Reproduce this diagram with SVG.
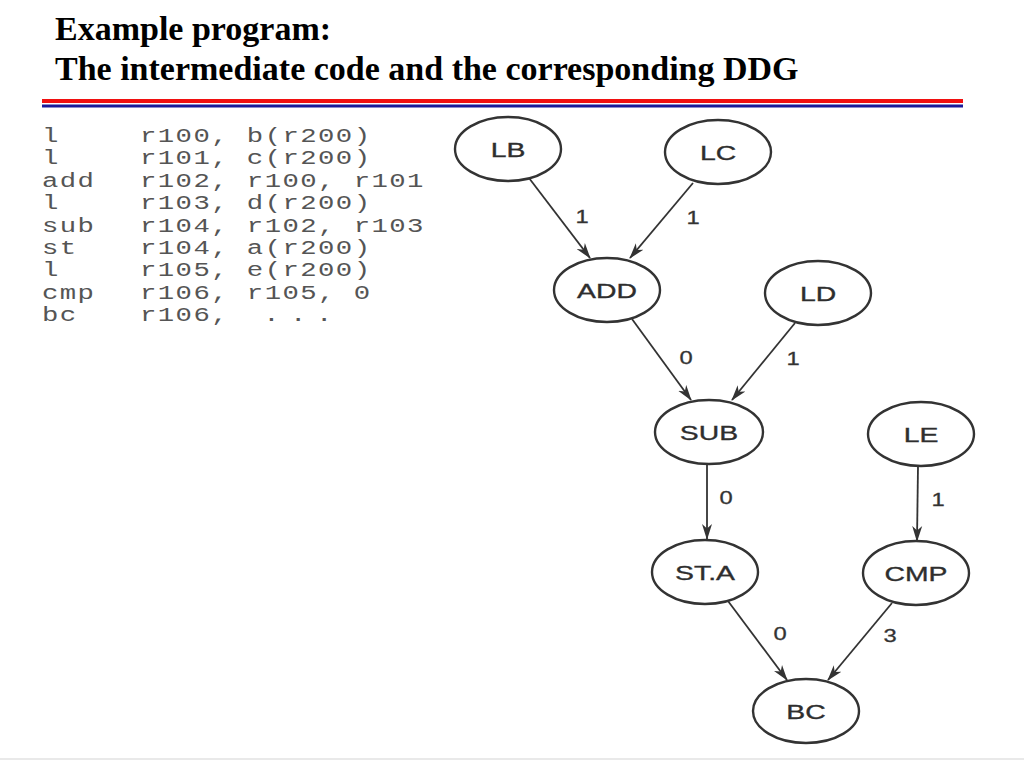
<svg xmlns="http://www.w3.org/2000/svg" width="1024" height="768" viewBox="0 0 1024 768">
  <style>
    .title { font-family: "Liberation Serif", "Times New Roman", serif; font-weight: bold; font-size: 34px; fill: #000; }
    .code { font-family: "Liberation Mono", "Courier New", monospace; font-size: 21px; letter-spacing: 1.1px; fill: #555; white-space: pre; }
    .node ellipse { fill: #fff; stroke: #333; stroke-width: 2.4; }
    .node text { font-family: "Liberation Sans", Arial, sans-serif; font-size: 21px; fill: #2e2e2e; stroke: #2e2e2e; stroke-width: 0.35; text-anchor: middle; }
    .edge { stroke: #333; stroke-width: 1.8; fill: none; marker-end: url(#arrow); }
    .elabel { font-family: "Liberation Sans", Arial, sans-serif; font-size: 19px; fill: #333; stroke: #333; stroke-width: 0.3; text-anchor: middle; }
  </style>
  <defs>
    <marker id="arrow" viewBox="0 0 16 11" refX="15" refY="5.5" markerWidth="16" markerHeight="11" markerUnits="userSpaceOnUse" orient="auto">
      <path d="M0,0.5 L16,5.5 L0,10.5 L4.5,5.5 Z" fill="#333"/>
    </marker>
  </defs>
  <rect width="1024" height="768" fill="#fff"/>

  <g id="title">
    <text class="title" x="55" y="40">Example program:</text>
    <text class="title" x="55" y="80">The intermediate code and the corresponding DDG</text>
    <rect x="42" y="99" width="921" height="4" fill="#f01010"/>
    <rect x="42" y="104.5" width="921" height="3" fill="#1a1a9a"/>
  </g>

  <g id="code" transform="scale(1.3,1)">
    <text class="code" x="32.3" y="142">l</text>
    <text class="code" x="107.7" y="142">r100, b(r200)</text>
    <text class="code" x="32.3" y="164.4">l</text>
    <text class="code" x="107.7" y="164.4">r101, c(r200)</text>
    <text class="code" x="32.3" y="186.8">add</text>
    <text class="code" x="107.7" y="186.8">r102, r100, r101</text>
    <text class="code" x="32.3" y="209.2">l</text>
    <text class="code" x="107.7" y="209.2">r103, d(r200)</text>
    <text class="code" x="32.3" y="231.6">sub</text>
    <text class="code" x="107.7" y="231.6">r104, r102, r103</text>
    <text class="code" x="32.3" y="254">st</text>
    <text class="code" x="107.7" y="254">r104, a(r200)</text>
    <text class="code" x="32.3" y="276.4">l</text>
    <text class="code" x="107.7" y="276.4">r105, e(r200)</text>
    <text class="code" x="32.3" y="298.8">cmp</text>
    <text class="code" x="107.7" y="298.8">r106, r105, 0</text>
    <text class="code" x="32.3" y="321.2">bc</text>
    <text class="code" x="107.7" y="321.2">r106,<tspan x="202.5">.</tspan><tspan x="223">.</tspan><tspan x="243">.</tspan></text>
  </g>

  <g id="connectors">
    <line class="edge" x1="529" y1="178" x2="590" y2="258"/>
    <line class="edge" x1="693" y1="183" x2="630" y2="258"/>
    <line class="edge" x1="632" y1="319" x2="691" y2="400"/>
    <line class="edge" x1="795" y1="323" x2="732" y2="400"/>
    <line class="edge" x1="707" y1="464" x2="707" y2="539"/>
    <line class="edge" x1="918" y1="466" x2="917" y2="541"/>
    <line class="edge" x1="728" y1="601" x2="787" y2="680"/>
    <line class="edge" x1="892" y1="603" x2="828" y2="680"/>
    <text class="elabel" transform="translate(582,223) scale(1.25,1)">1</text>
    <text class="elabel" transform="translate(693,224) scale(1.25,1)">1</text>
    <text class="elabel" transform="translate(686,364) scale(1.25,1)">0</text>
    <text class="elabel" transform="translate(793,365) scale(1.25,1)">1</text>
    <text class="elabel" transform="translate(726,504) scale(1.25,1)">0</text>
    <text class="elabel" transform="translate(938,506) scale(1.25,1)">1</text>
    <text class="elabel" transform="translate(780,640) scale(1.25,1)">0</text>
    <text class="elabel" transform="translate(890,642) scale(1.25,1)">3</text>
  </g>

  <g id="node-LB" class="node">
    <ellipse cx="508" cy="149" rx="53" ry="32"/>
    <text transform="translate(508,156.5) scale(1.35,1)">LB</text>
  </g>
  <g id="node-LC" class="node">
    <ellipse cx="718" cy="152" rx="53" ry="32"/>
    <text transform="translate(718,159.5) scale(1.35,1)">LC</text>
  </g>
  <g id="node-ADD" class="node">
    <ellipse cx="607" cy="290" rx="53" ry="32"/>
    <text transform="translate(607,297.5) scale(1.35,1)">ADD</text>
  </g>
  <g id="node-LD" class="node">
    <ellipse cx="818" cy="293" rx="53" ry="32"/>
    <text transform="translate(818,300.5) scale(1.35,1)">LD</text>
  </g>
  <g id="node-SUB" class="node">
    <ellipse cx="709" cy="432" rx="54" ry="32"/>
    <text transform="translate(709,439.5) scale(1.35,1)">SUB</text>
  </g>
  <g id="node-LE" class="node">
    <ellipse cx="921" cy="434" rx="53" ry="32"/>
    <text transform="translate(921,441.5) scale(1.35,1)">LE</text>
  </g>
  <g id="node-STA" class="node">
    <ellipse cx="705" cy="572" rx="53" ry="32"/>
    <text transform="translate(705,579.5) scale(1.35,1)">ST.A</text>
  </g>
  <g id="node-CMP" class="node">
    <ellipse cx="916" cy="573" rx="53" ry="32"/>
    <text transform="translate(916,580.5) scale(1.35,1)">CMP</text>
  </g>
  <g id="node-BC" class="node">
    <ellipse cx="806" cy="711" rx="53" ry="32"/>
    <text transform="translate(806,718.5) scale(1.35,1)">BC</text>
  </g>

  <line x1="0" y1="759" x2="1024" y2="759" stroke="#e2e2e2" stroke-width="1.5"/>
</svg>
